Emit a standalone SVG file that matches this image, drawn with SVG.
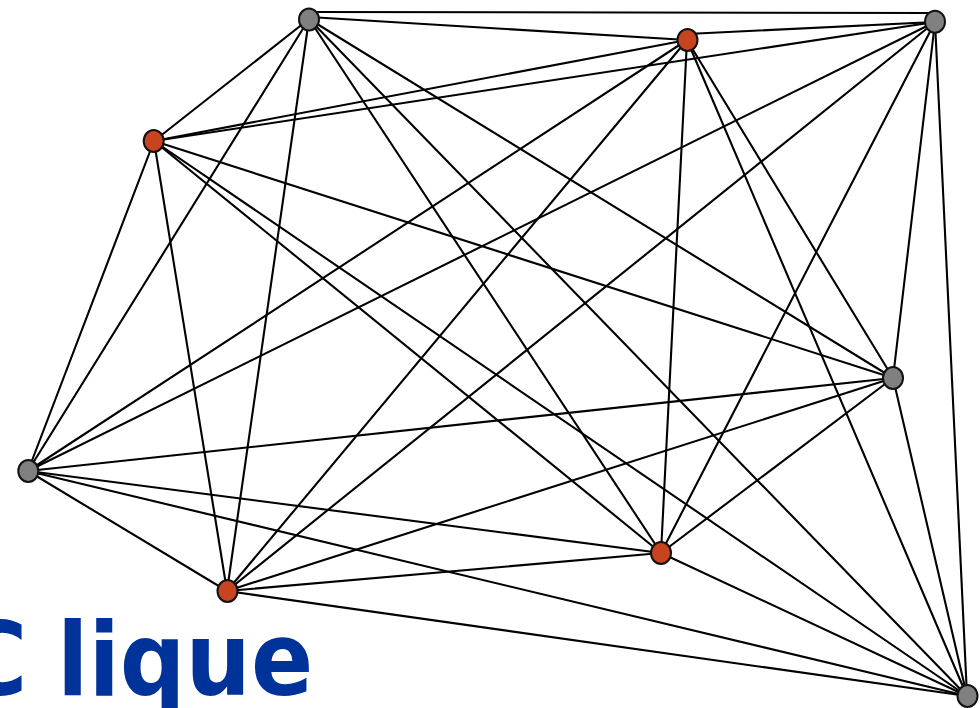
<svg xmlns="http://www.w3.org/2000/svg" width="980" height="708" viewBox="0 0 980 708">
<style>
.e{stroke:#000;stroke-width:2.1;fill:none;stroke-linecap:round}
.n{stroke:#111;stroke-width:2}
.g{fill:#808080}
.r{fill:#c8441f}
.t{font-family:"DejaVu Sans Condensed","DejaVu Sans",sans-serif;font-stretch:condensed;font-weight:bold;font-size:102px;fill:#003399}
</style>
<rect width="980" height="708" fill="#fff"/>
<g id="edges">
<line class="e" x1="309" y1="12" x2="935" y2="13"/>
<line class="e" x1="309" y1="17" x2="687" y2="40"/>
<line class="e" x1="309" y1="19" x2="154" y2="141"/>
<line class="e" x1="309" y1="19" x2="893" y2="378"/>
<line class="e" x1="309" y1="19" x2="28" y2="471"/>
<line class="e" x1="309" y1="19" x2="661" y2="553"/>
<line class="e" x1="309" y1="19" x2="227" y2="591"/>
<line class="e" x1="309" y1="19" x2="967" y2="696"/>
<line class="e" x1="687" y1="34" x2="935" y2="22"/>
<line class="e" x1="687" y1="40" x2="154" y2="141"/>
<line class="e" x1="687" y1="40" x2="893" y2="378"/>
<line class="e" x1="687" y1="40" x2="28" y2="471"/>
<line class="e" x1="687" y1="40" x2="661" y2="553"/>
<line class="e" x1="687" y1="40" x2="227" y2="591"/>
<line class="e" x1="687" y1="40" x2="967" y2="696"/>
<line class="e" x1="935" y1="22" x2="154" y2="141"/>
<line class="e" x1="935" y1="22" x2="893" y2="378"/>
<line class="e" x1="935" y1="22" x2="28" y2="471"/>
<line class="e" x1="935" y1="22" x2="661" y2="553"/>
<line class="e" x1="935" y1="22" x2="227" y2="591"/>
<line class="e" x1="935" y1="22" x2="967" y2="696"/>
<line class="e" x1="154" y1="141" x2="893" y2="378"/>
<line class="e" x1="154" y1="141" x2="28" y2="471"/>
<line class="e" x1="154" y1="141" x2="661" y2="553"/>
<line class="e" x1="154" y1="141" x2="227" y2="591"/>
<line class="e" x1="154" y1="141" x2="967" y2="696"/>
<line class="e" x1="893" y1="378" x2="28" y2="471"/>
<line class="e" x1="893" y1="378" x2="661" y2="553"/>
<line class="e" x1="893" y1="378" x2="227" y2="591"/>
<line class="e" x1="893" y1="378" x2="967" y2="696"/>
<line class="e" x1="28" y1="471" x2="661" y2="553"/>
<line class="e" x1="28" y1="471" x2="227" y2="591"/>
<line class="e" x1="28" y1="471" x2="967" y2="696"/>
<line class="e" x1="661" y1="553" x2="227" y2="591"/>
<line class="e" x1="661" y1="553" x2="967" y2="696"/>
<line class="e" x1="227" y1="591" x2="967" y2="696"/>
</g>
<g id="nodeA"><ellipse class="n g" cx="309" cy="19.5" rx="10" ry="11"/></g>
<g id="nodeB"><ellipse class="n r" cx="687.5" cy="40" rx="10" ry="11"/></g>
<g id="nodeC"><ellipse class="n g" cx="935" cy="21.7" rx="10" ry="11"/></g>
<g id="nodeD"><ellipse class="n r" cx="153.7" cy="141" rx="10" ry="11"/></g>
<g id="nodeE"><ellipse class="n g" cx="893" cy="378" rx="10" ry="11"/></g>
<g id="nodeF"><ellipse class="n g" cx="28.3" cy="471" rx="10" ry="11"/></g>
<g id="nodeG"><ellipse class="n r" cx="661" cy="553" rx="10" ry="11"/></g>
<g id="nodeH"><ellipse class="n r" cx="227.5" cy="591" rx="10" ry="11"/></g>
<g id="nodeI"><ellipse class="n g" cx="967.5" cy="696" rx="10" ry="11"/></g>
<text class="t" x="-40 57" y="695">Clique</text>
</svg>
